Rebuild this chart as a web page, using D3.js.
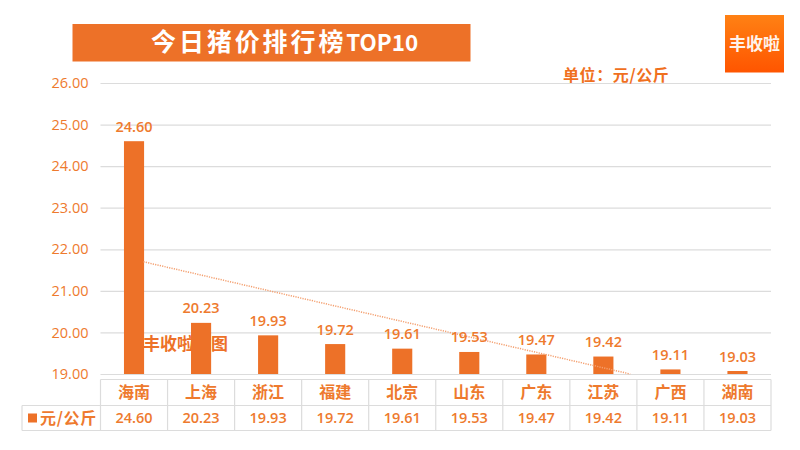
<!DOCTYPE html>
<html><head><meta charset="utf-8">
<script src="https://cdn.jsdelivr.net/npm/d3@7/dist/d3.min.js"></script>
<style>html,body{margin:0;padding:0;background:#fff}svg{display:block}</style>
</head><body><svg id="c" width="800" height="450"></svg>
<script>
const categories=["海南","上海","浙江","福建","北京","山东","广东","江苏","广西","湖南"];
const values=[24.60,20.23,19.93,19.72,19.61,19.53,19.47,19.42,19.11,19.03];
const yTicks=[19,20,21,22,23,24,25,26];
const titleCn="今日猪价排行榜";
const titleEn="TOP10";
const unitText="单位：元/公斤";
const seriesName="元/公斤";
const watermark="丰收啦制图";
const logoText="丰收啦";
const trendCats=[0.14,7.4];
const trendVals=[21.7,19.0];

const ORANGE="#ED7128",TXT="#EE7A2E",GRID="#DCDCDC",FONT="'Noto Sans CJK SC','Noto Sans',sans-serif";
const svg=d3.select("#c").style("font-family",FONT);
const L=100.5,R=771,T=83,B=374,rowA=379.5,rowB=405.5,rowC=430.5,tableLeft=22,MINH=3;

const x=d3.scaleBand().domain(categories).range([L,R]).paddingInner(0.7).paddingOuter(0.35);
const y=d3.scaleLinear().domain([19,26]).range([B,T]);
const barTop=d=>Math.min(y(d),B-MINH);
const xi=d3.scaleLinear().domain([0,1]).range([x(categories[0])+x.bandwidth()/2,x(categories[1])+x.bandwidth()/2]);

const defs=svg.append("defs");
const g=defs.append("linearGradient").attr("id","lg").attr("x1",0).attr("x2",0).attr("y1",0).attr("y2",1);
g.append("stop").attr("offset",0).attr("stop-color","#FF8114");
g.append("stop").attr("offset",1).attr("stop-color","#FF5500");

// title
svg.append("rect").attr("x",72.5).attr("y",24).attr("width",398).attr("height",37.5).attr("fill",ORANGE);
const tt=svg.append("text").attr("x",151).attr("y",51).attr("fill","#fff").attr("font-weight",700);
tt.append("tspan").attr("font-size",25).attr("letter-spacing",2.9).text(titleCn);
tt.append("tspan").attr("font-size",22.4).text(titleEn);

// logo
svg.append("rect").attr("x",725).attr("y",15).attr("width",59).attr("height",57.5).attr("fill","url(#lg)");
svg.append("text").attr("x",754.5).attr("y",49.5).attr("text-anchor","middle").attr("fill","#fff")
  .attr("font-size",17).attr("font-weight",700).attr("opacity",.92).text(logoText);

// y axis + grid
const ya=svg.append("g").attr("transform",`translate(${L},0)`)
  .call(d3.axisLeft(y).tickValues(yTicks).tickFormat(d3.format(".2f")).tickSize(-(R-L)).tickPadding(12));
ya.select(".domain").remove();
ya.selectAll("line").attr("stroke",GRID).attr("stroke-width",1.2);
ya.selectAll("text").attr("fill",TXT).attr("font-size",14.5).attr("font-family","'Open Sans',sans-serif").attr("font-weight",500);

// unit
svg.append("text").attr("x",563).attr("y",81).attr("fill","#F0701E").attr("font-size",16).attr("letter-spacing",0.6).attr("font-weight",700).text(unitText);

// watermark (behind bars)
svg.append("text").attr("x",143).attr("y",350).attr("fill",ORANGE).attr("font-size",17).attr("font-weight",700).text(watermark);

// bars
svg.append("g").selectAll("rect").data(values).join("rect")
  .attr("x",(d,i)=>x(categories[i])).attr("width",x.bandwidth())
  .attr("y",d=>barTop(d)).attr("height",d=>B-barTop(d)).attr("fill",ORANGE);

// trend line
svg.append("path").attr("fill","none").attr("stroke","#F4A070").attr("stroke-width",1.5).attr("stroke-dasharray","1.2 1.2")
  .attr("d",d3.line().x((d,i)=>xi(trendCats[i])).y(d=>y(d))(trendVals));

// data labels
svg.append("g").selectAll("text").data(values).join("text")
  .attr("x",(d,i)=>x(categories[i])+x.bandwidth()/2).attr("y",d=>barTop(d)-9.5)
  .attr("text-anchor","middle").attr("fill",TXT).attr("font-size",14.5).attr("font-weight",600)
  .attr("font-family","'Open Sans',sans-serif").text(d=>d3.format(".2f")(d));

// data table
const tbl=svg.append("g").attr("stroke",GRID).attr("stroke-width",1.2).attr("fill","none");
const edgeX=d3.scaleLinear().domain([0,categories.length]).range([L,R]);
tbl.selectAll(".v").data(d3.range(categories.length+1)).join("line")
  .attr("x1",d=>edgeX(d)).attr("x2",d=>edgeX(d)).attr("y1",rowA).attr("y2",rowC);
[[L,R,rowA],[tableLeft,R,rowB],[tableLeft,R,rowC]].forEach(([a,b,yy])=>tbl.append("line").attr("x1",a).attr("x2",b).attr("y1",yy).attr("y2",yy));
tbl.append("line").attr("x1",tableLeft).attr("x2",tableLeft).attr("y1",rowB).attr("y2",rowC);

const cx=i=>(edgeX(i)+edgeX(i+1))/2;
svg.append("g").selectAll("text").data(categories).join("text")
  .attr("x",(d,i)=>cx(i)).attr("y",398).attr("text-anchor","middle").attr("fill",TXT)
  .attr("font-size",16).attr("font-weight",700).text(d=>d);
svg.append("g").selectAll("text").data(values).join("text")
  .attr("x",(d,i)=>cx(i)).attr("y",423).attr("text-anchor","middle").attr("fill",TXT)
  .attr("font-size",14.5).attr("font-weight",600).attr("font-family","'Open Sans',sans-serif")
  .text(d=>d3.format(".2f")(d));
svg.append("rect").attr("x",28).attr("y",413.5).attr("width",9).attr("height",9).attr("fill",ORANGE);
svg.append("text").attr("x",40).attr("y",423.5).attr("fill",TXT).attr("font-size",16).attr("letter-spacing",0.7).attr("font-weight",700).text(seriesName);
</script></body></html>
